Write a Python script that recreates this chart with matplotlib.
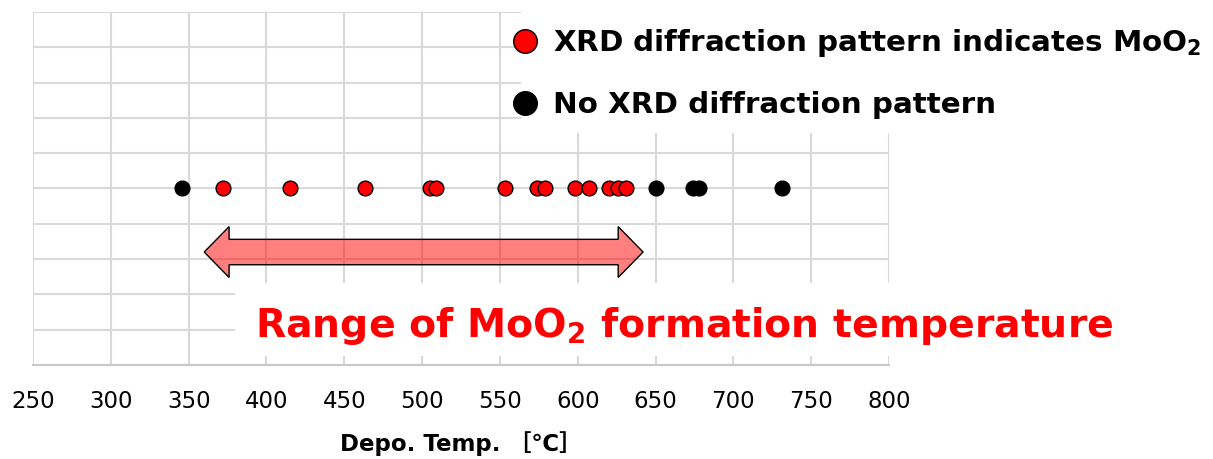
import matplotlib
matplotlib.use("Agg")
import matplotlib.pyplot as plt
from matplotlib.patches import Polygon, Rectangle
from matplotlib.lines import Line2D

plt.rcParams['font.family'] = ['DejaVu Sans', 'Noto Sans CJK JP']
plt.rcParams['mathtext.fontset'] = 'dejavusans'

# deposition temperatures (deg C)
temp_moo2 = [372, 415, 463, 505, 509, 553, 574, 579, 598, 607, 620, 626, 631]
temp_none = [346, 650, 674, 678, 731]
row_y = 5

xticks = [250, 300, 350, 400, 450, 500, 550, 600, 650, 700, 750, 800]
range_lo, range_hi = 360, 642

fig = plt.figure(figsize=(12.13, 4.59), dpi=100)
ax = fig.add_axes([33 / 1213, 94 / 459, 856 / 1213, 353 / 459])

ax.set_xlim(250, 800)
ax.set_ylim(0, 10)
ax.set_xticks(xticks)
ax.set_yticks(range(0, 11))
ax.set_yticklabels([])
ax.tick_params(axis='both', length=0)
ax.tick_params(axis='x', labelsize=16.5, pad=18)
ax.grid(True, color='#d9d9d9', linewidth=1.5)
ax.set_axisbelow(True)
for s in ['top', 'right', 'left']:
    ax.spines[s].set_visible(False)
ax.spines['bottom'].set_color('#c8c8c8')
ax.spines['bottom'].set_linewidth(1.5)

ax.plot(temp_moo2, [row_y] * len(temp_moo2), 'o', ms=10.6, mfc='#ff0000', mec='black', mew=1, zorder=3)
ax.plot(temp_none, [row_y] * len(temp_none), 'o', ms=10.6, mfc='black', mec='black', mew=1, zorder=3)

# double arrow showing MoO2 range
yc, sh, hh, hl = 3.2, 0.36, 0.72, 16
pts = [(range_lo, yc), (range_lo + hl, yc + hh), (range_lo + hl, yc + sh),
       (range_hi - hl, yc + sh), (range_hi - hl, yc + hh), (range_hi, yc),
       (range_hi - hl, yc - hh), (range_hi - hl, yc - sh),
       (range_lo + hl, yc - sh), (range_lo + hl, yc - hh)]
ax.add_patch(Polygon(pts, closed=True, facecolor=(1, 0, 0, 0.5), edgecolor='black', lw=1, zorder=4))

# white boxes behind the texts
ax.add_patch(Rectangle((0.570, 0.657), 0.45, 0.36, transform=ax.transAxes,
                       facecolor='white', edgecolor='none', clip_on=False, zorder=2))
ax.add_patch(Rectangle((0.236, 0.0255), 0.77, 0.207, transform=ax.transAxes,
                       facecolor='white', edgecolor='none', clip_on=False, zorder=2))

fig.text(255 / 1213, 1 - 337 / 459, r'Range of MoO$_\mathbf{2}$ formation temperature',
         color='#ff0000', fontsize=28.4, fontweight='bold', va='baseline', ha='left')

handles = [Line2D([], [], ls='none', marker='o', ms=17, mfc='#ff0000', mec='black', mew=1),
           Line2D([], [], ls='none', marker='o', ms=17, mfc='black', mec='black', mew=1)]
labels = [r'XRD diffraction pattern indicates MoO$_\mathbf{2}$', 'No XRD diffraction pattern']
leg = fig.legend(handles, labels, loc='upper left', bbox_to_anchor=(510 / 1213, 1 - 27 / 459),
                 frameon=False, prop={'weight': 'bold', 'size': 21.2}, handlelength=1.0,
                 handletextpad=0.45, borderpad=0, borderaxespad=0, labelspacing=1.1)

ax.set_xlabel('Depo. Temp. ［℃］', fontsize=16.5, fontweight='bold', labelpad=13)

fig.savefig('out.png', dpi=100)
